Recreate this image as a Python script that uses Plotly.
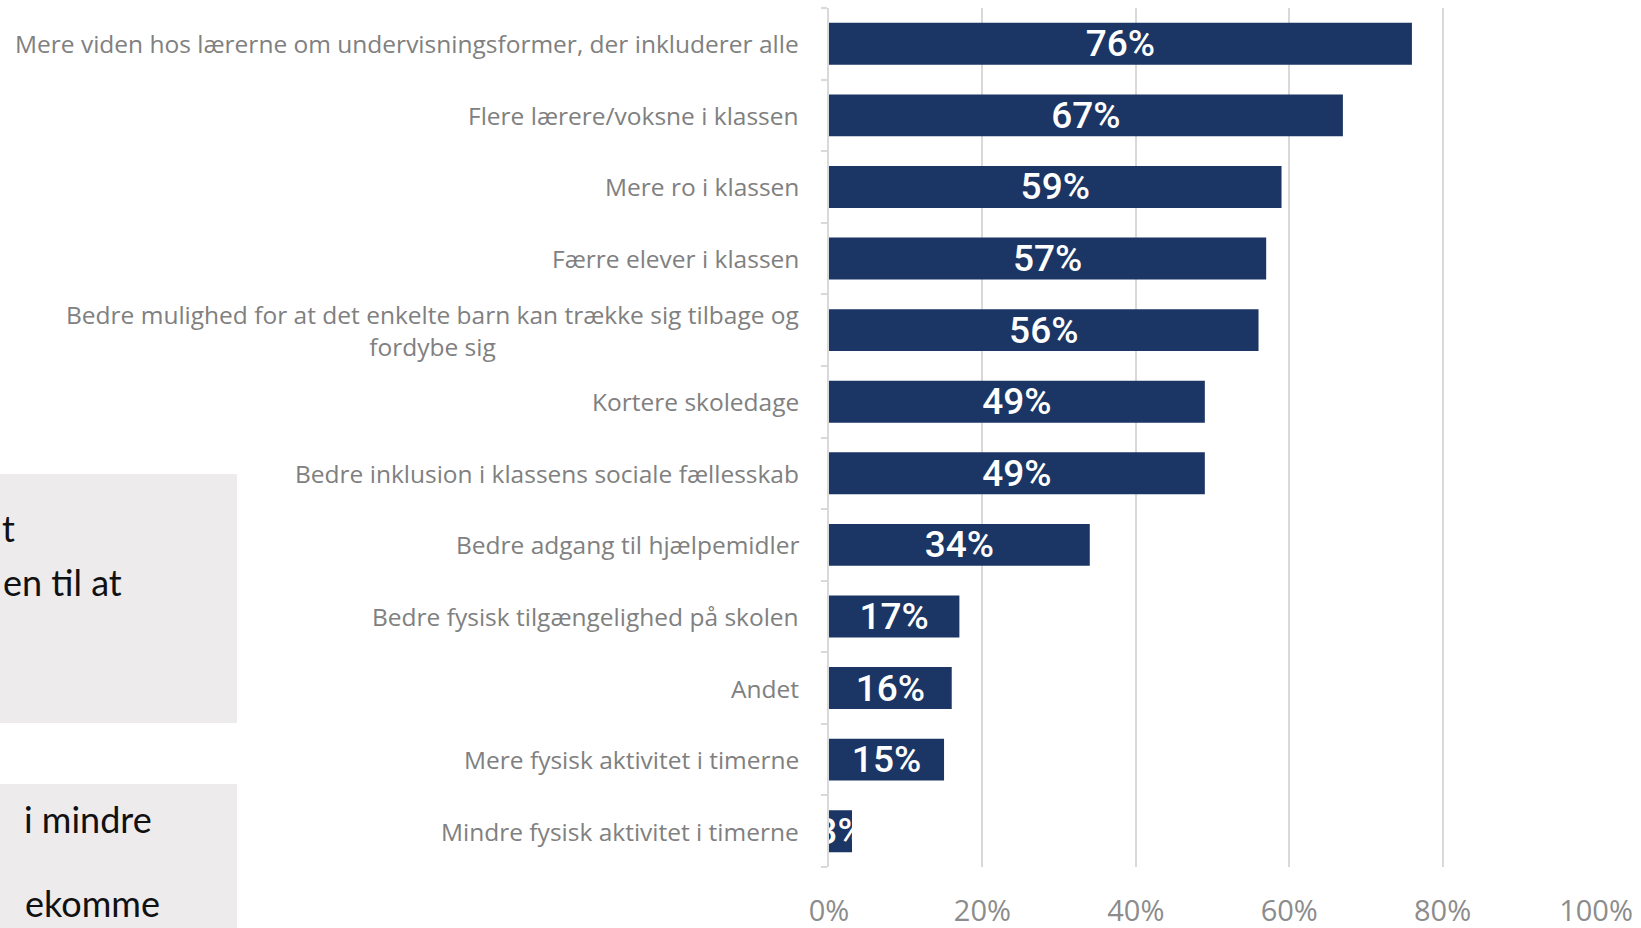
import plotly.graph_objects as go

categories = [
    "Mere viden hos lærerne om undervisningsformer, der inkluderer alle",
    "Flere lærere/voksne i klassen",
    "Mere ro i klassen",
    "Færre elever i klassen",
    "Bedre mulighed for at det enkelte barn kan trække sig tilbage og<br>fordybe sig",
    "Kortere skoledage",
    "Bedre inklusion i klassens sociale fællesskab",
    "Bedre adgang til hjælpemidler",
    "Bedre fysisk tilgængelighed på skolen",
    "Andet",
    "Mere fysisk aktivitet i timerne",
    "Mindre fysisk aktivitet i timerne",
]
values = [76, 67, 59, 57, 56, 49, 49, 34, 17, 16, 15, 3]
tick_vals = [0, 0.2, 0.4, 0.6, 0.8, 1.0]
tick_text = ["0%", "20%", "40%", "60%", "80%", "100%"]
side_text = ["t", "en til at", "i mindre", "ekomme"]

W, H = 1641, 928
L, R, T, B = 829, 45, 8, 61
PW, PH = W - L - R, H - T - B


def px(x):
    return (x - L) / PW


def py(y):
    return (H - B - y) / PH


fig = go.Figure()
fig.add_trace(go.Bar(
    x=[v / 100 for v in values],
    y=list(range(len(categories))),
    orientation="h",
    marker=dict(color="#1B3664", line=dict(width=0)),
    text=[f"{v}%" for v in values],
    textposition="inside",
    insidetextanchor="middle",
    constraintext="none",
    textangle=0,
    textfont=dict(family="Roboto", size=37, color="white", weight=500),
    width=0.585,
    hoverinfo="skip",
))

annotations = []
for i, c in enumerate(categories):
    annotations.append(dict(
        x=px(801), xref="paper", y=i, yref="y",
        text=c, showarrow=False, xanchor="right", yanchor="middle", align="center",
        font=dict(family="Open Sans", size=24.5, color="#808080"),
    ))

shapes = [
    dict(type="rect", xref="paper", yref="paper", x0=px(0), x1=px(237), y0=py(723), y1=py(474),
         fillcolor="#EDEBEC", line=dict(width=0), layer="below"),
    dict(type="rect", xref="paper", yref="paper", x0=px(0), x1=px(237), y0=py(940), y1=py(784),
         fillcolor="#EDEBEC", line=dict(width=0), layer="below"),
]
side_pos = [(0, 528, "left"), (124, 582, "right"), (154, 819, "right"), (162, 903, "right")]
for t, (xr, yc, anc) in zip(side_text, side_pos):
    annotations.append(dict(
        x=px(xr), xref="paper", y=py(yc), yref="paper", text=t, showarrow=False,
        xanchor=anc, yanchor="middle", font=dict(family="Lato", size=36, color="#111111"),
    ))

fig.update_layout(
    width=W, height=H,
    margin=dict(l=L, r=R, t=T, b=B, pad=0, autoexpand=False),
    paper_bgcolor="white", plot_bgcolor="white",
    showlegend=False,
    annotations=annotations,
    shapes=shapes,
    xaxis=dict(range=[0, 1.0], tickvals=tick_vals, ticktext=tick_text,
               showgrid=True, gridcolor="#D9D9D9", gridwidth=2, zeroline=False,
               showline=False, ticks="", ticklabelstandoff=24, automargin=False,
               tickfont=dict(family="Open Sans", size=29, color="#8C8C8C")),
    yaxis=dict(type="linear", range=[len(categories) - 0.5, -0.5],
               tickvals=[i - 0.5 for i in range(len(categories) + 1)],
               showticklabels=False, showgrid=False, zeroline=False, automargin=False,
               showline=True, linecolor="#D9D9D9", linewidth=2,
               ticks="outside", ticklen=6, tickcolor="#D9D9D9", tickwidth=2),
)

fig.write_html("out.html")
